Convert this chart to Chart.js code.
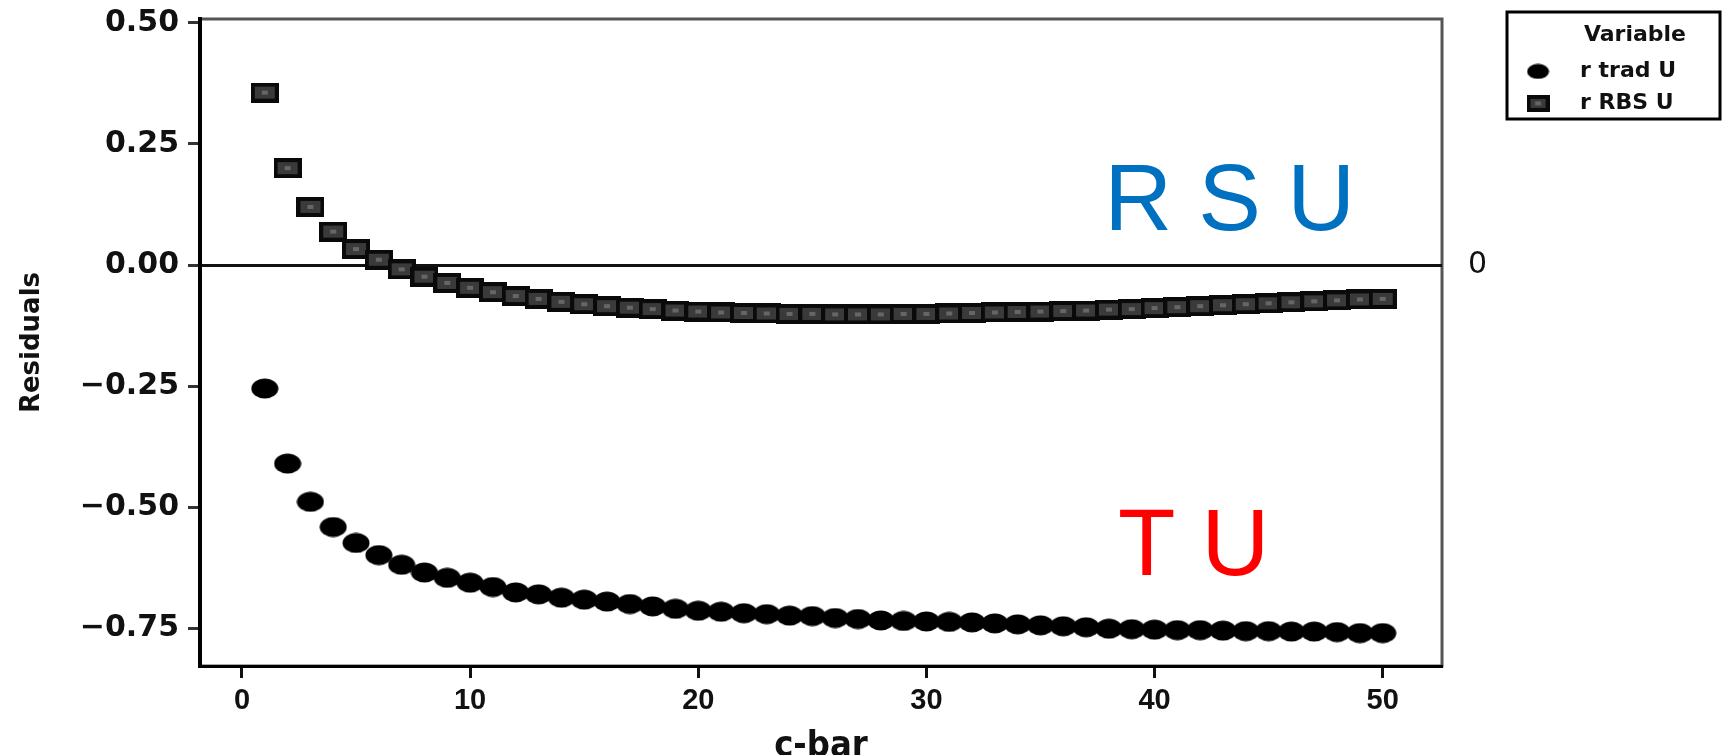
<!DOCTYPE html>
<html>
<head>
<meta charset="utf-8">
<title>Residuals vs c-bar</title>
<script src="https://cdn.jsdelivr.net/npm/chart.js@4.4.1/dist/chart.umd.min.js"></script>
<style>
  html, body { margin: 0; padding: 0; background: #fff; }
  #wrap { width: 1725px; height: 755px; position: relative; }
</style>
</head>
<body>
<div id="wrap"><canvas id="grafico"></canvas></div>
<script>
// ----------------------
// DATOS
// ----------------------
const cBar = [
  1, 2, 3, 4, 5, 6, 7, 8, 9, 10,
  11, 12, 13, 14, 15, 16, 17, 18, 19, 20,
  21, 22, 23, 24, 25, 26, 27, 28, 29, 30,
  31, 32, 33, 34, 35, 36, 37, 38, 39, 40,
  41, 42, 43, 44, 45, 46, 47, 48, 49, 50
];

const rTradU = [
  -0.255, -0.410, -0.489, -0.541, -0.574, -0.599, -0.619, -0.635, -0.646, -0.656,
  -0.665, -0.676, -0.680, -0.687, -0.691, -0.695, -0.700, -0.705, -0.710, -0.714,
  -0.716, -0.719, -0.721, -0.724, -0.725, -0.729, -0.731, -0.734, -0.735, -0.736,
  -0.737, -0.738, -0.740, -0.742, -0.744, -0.746, -0.748, -0.751, -0.752, -0.753,
  -0.754, -0.754, -0.755, -0.756, -0.756, -0.757, -0.757, -0.758, -0.760, -0.760
];

const rRbsU = [
  0.356, 0.200, 0.120, 0.069, 0.033, 0.011, -0.009, -0.024, -0.037, -0.047,
  -0.056, -0.064, -0.070, -0.076, -0.081, -0.085, -0.088, -0.091, -0.094, -0.096,
  -0.098, -0.099, -0.100, -0.101, -0.101, -0.102, -0.102, -0.102, -0.101, -0.101,
  -0.100, -0.099, -0.098, -0.097, -0.096, -0.095, -0.094, -0.092, -0.091, -0.089,
  -0.087, -0.085, -0.083, -0.081, -0.079, -0.077, -0.075, -0.073, -0.071, -0.070
];

const seriesNames = ['r trad U', 'r RBS U'];
const xTicks = [0, 10, 20, 30, 40, 50];
const yTicks = [-0.75, -0.5, -0.25, 0, 0.25, 0.5];
const refLine = [0];
const legendTitle = 'Variable';
const xTitle = 'c-bar';
const yTitle = 'Residuals';
const noteTexts = ['R S U', 'T U'];

// ----------------------
// MARCADORES
// ----------------------
function marcador(w, h, dibujar) {
  const c = document.createElement('canvas');
  c.width = w;
  c.height = h;
  dibujar(c.getContext('2d'), w, h);
  return c;
}

function circulo(ctx, w, h) {
  ctx.fillStyle = '#000';
  ctx.beginPath();
  ctx.ellipse(w / 2, h / 2, w / 2 - 0.5, h / 2 - 0.5, 0, 0, Math.PI * 2);
  ctx.fill();
}

function cuadro(ctx, w, h) {
  ctx.fillStyle = '#0a0a0a';
  ctx.fillRect(0, 0, w, h);
  ctx.fillStyle = '#3a3a3a';
  ctx.fillRect(4, 4, w - 8, h - 8);
  ctx.fillStyle = '#666';
  ctx.fillRect(w / 2 - 3, h / 2 - 2, 6, 4);
}

const puntoTrad = marcador(28, 21, circulo);
const puntoRbs = marcador(28, 20, cuadro);
const leyendaMarcas = [marcador(23, 16, circulo), marcador(23, 17, cuadro)];

// ----------------------
// PLUGINS
// ----------------------
const marco = {
  id: 'marco',
  beforeDraw(chart) {
    const { ctx, chartArea: a } = chart;
    ctx.save();
    ctx.strokeStyle = '#555';
    ctx.lineWidth = 3;
    ctx.strokeRect(a.left, a.top, a.right - a.left, a.bottom - a.top);
    ctx.restore();
  }
};

const cajaLeyenda = {
  id: 'cajaLeyenda',
  afterDraw(chart) {
    const l = chart.legend;
    const ctx = chart.ctx;
    ctx.save();
    ctx.strokeStyle = '#000';
    ctx.lineWidth = 3;
    ctx.strokeRect(l.left + 10, l.top - 7, 213, 107);
    ctx.restore();
  }
};

const rotulos = {
  id: 'rotulos',
  afterDraw(chart) {
    const { ctx, scales: { x, y } } = chart;
    ctx.save();
    ctx.font = '94px "Liberation Sans", Arial, sans-serif';
    ctx.textBaseline = 'alphabetic';
    ctx.textAlign = 'left';
    ctx.fillStyle = '#0070C0';
    ctx.fillText(noteTexts[0], x.getPixelForValue(37.8), y.getPixelForValue(0.072));
    ctx.fillStyle = '#FF0000';
    ctx.fillText(noteTexts[1], x.getPixelForValue(38.4), y.getPixelForValue(-0.64));
    ctx.restore();
  }
};

// ----------------------
// GRAFICO
// ----------------------
const sans = "'Liberation Sans', Arial, sans-serif";
const fmt = v => v.toFixed(2).replace('-', '\u2212');

new Chart(document.getElementById('grafico'), {
  type: 'scatter',
  data: {
    datasets: [
      {
        label: seriesNames[0],
        data: cBar.map((c, i) => ({ x: c, y: rTradU[i] })),
        pointStyle: puntoTrad,
        backgroundColor: '#000',
        borderColor: '#000'
      },
      {
        label: seriesNames[1],
        data: cBar.map((c, i) => ({ x: c, y: rRbsU[i] })),
        pointStyle: puntoRbs,
        backgroundColor: '#3a3a3a',
        borderColor: '#0a0a0a'
      }
    ]
  },
  options: {
    animation: false,
    responsive: true,
    maintainAspectRatio: false,
    layout: { padding: { top: 19, right: 39, bottom: 0, left: 0 } },
    plugins: {
      tooltip: { enabled: false },
      legend: {
        position: 'right',
        align: 'start',
        title: {
          display: true,
          text: legendTitle,
          position: 'end',
          color: '#111',
          font: { family: 'DejaVu Sans', size: 22, weight: 'bold' },
          padding: { top: 5, bottom: 0 }
        },
        labels: {
          usePointStyle: true,
          pointStyleWidth: 62,
          boxHeight: 22,
          padding: 10,
          color: '#111',
          font: { family: 'DejaVu Sans', size: 22, weight: 'bold' },
          generateLabels(chart) {
            const items = Chart.defaults.plugins.legend.labels.generateLabels(chart);
            items.forEach((it, i) => { it.pointStyle = leyendaMarcas[i]; });
            return items;
          }
        }
      }
    },
    scales: {
      x: {
        type: 'linear',
        position: 'bottom',
        min: -1.84,
        max: 52.6,
        afterBuildTicks: s => { s.ticks = xTicks.map(v => ({ value: v })); },
        afterFit: s => { s.height = 89; },
        border: { display: true, color: '#000', width: 3 },
        grid: { drawOnChartArea: false, drawTicks: true, tickLength: 12, tickWidth: 3, tickColor: '#111' },
        ticks: {
          padding: 6,
          color: '#111',
          autoSkip: false,
          maxRotation: 0,
          font: { family: sans, size: 29, weight: 'bold' }
        },
        title: {
          display: true,
          text: xTitle,
          color: '#111',
          font: { family: "'DejaVu Sans Condensed', 'DejaVu Sans', sans-serif", size: 36, weight: 'bold', lineHeight: 1 },
          padding: { top: 0, bottom: -10 }
        }
      },
      y: {
        type: 'linear',
        position: 'left',
        min: -0.828,
        max: 0.508,
        afterBuildTicks: s => { s.ticks = yTicks.map(v => ({ value: v })); },
        afterFit: s => { s.width = 200; },
        border: { display: true, color: '#000', width: 4 },
        grid: {
          drawOnChartArea: true,
          color: c => (c.tick && c.tick.value === 0 ? '#111' : 'rgba(0,0,0,0)'),
          lineWidth: 3,
          drawTicks: true,
          tickLength: 12,
          tickWidth: 3,
          tickColor: '#333'
        },
        ticks: {
          padding: 9,
          color: '#111',
          font: { family: 'DejaVu Sans', size: 30, weight: 'bold', lineHeight: 0.6 },
          callback: v => fmt(v)
        },
        title: {
          display: true,
          text: yTitle,
          color: '#111',
          font: { family: 'DejaVu Sans', size: 26, weight: 'bold' },
          padding: { top: 17, bottom: 0 }
        }
      },
      y2: {
        type: 'linear',
        position: 'right',
        min: -0.828,
        max: 0.508,
        afterBuildTicks: s => { s.ticks = refLine.map(v => ({ value: v })); },
        afterFit: s => { s.width = 55; },
        border: { display: false },
        grid: { display: false, drawTicks: true, tickLength: 24, drawOnChartArea: false },
        ticks: {
          padding: 2,
          color: '#111',
          font: { family: 'DejaVu Sans', size: 30, lineHeight: 0.6 },
          callback: v => String(v)
        }
      }
    }
  },
  plugins: [marco, cajaLeyenda, rotulos]
});
</script>
</body>
</html>
